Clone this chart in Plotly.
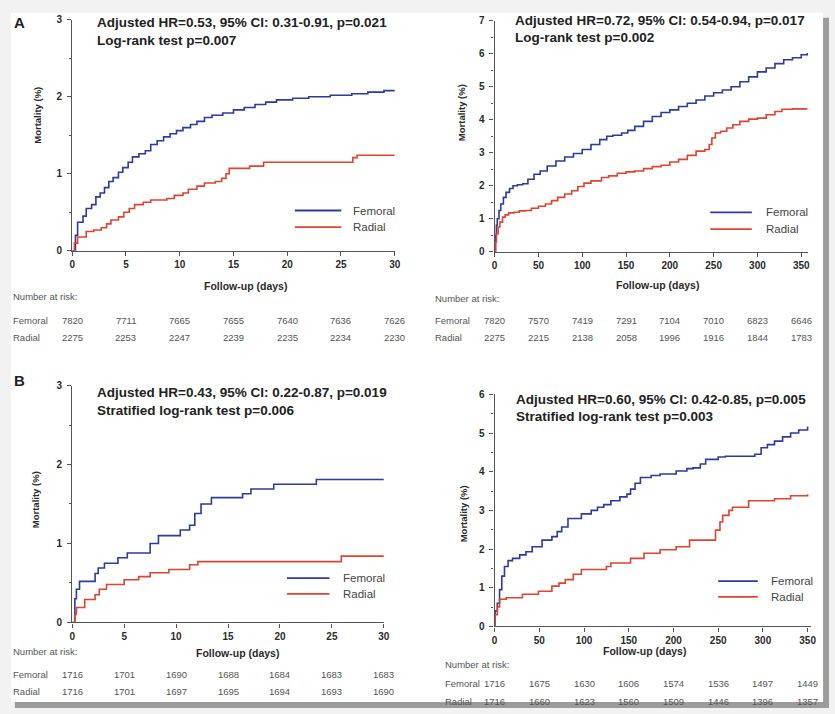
import plotly.graph_objects as go

# ------------------------------------------------------------------ data
# Panel A, 30 days
a30_fem_days = [0, 0.3, 0.5, 1.0, 1.3, 1.8, 2.2, 2.6, 3.0, 3.4, 3.8, 4.3, 4.7, 5.2, 5.6, 6.2, 6.8, 7.3, 7.9,
                8.5, 9.1, 9.7, 10.3, 11.0, 11.6, 12.3, 13.0, 14.0, 15.0, 16.0, 17.0, 18.0, 19.0, 20.5, 22.0,
                24.0, 26.0, 27.5, 29.0, 30.0]
a30_fem_mort = [0, 0.2, 0.37, 0.45, 0.55, 0.6, 0.7, 0.75, 0.82, 0.9, 0.95, 1.02, 1.08, 1.15, 1.22, 1.26, 1.3,
                1.38, 1.43, 1.48, 1.52, 1.56, 1.6, 1.64, 1.68, 1.73, 1.76, 1.79, 1.83, 1.86, 1.9, 1.93, 1.96,
                1.98, 2.0, 2.02, 2.04, 2.06, 2.08, 2.09]
a30_rad_days = [0, 0.2, 0.5, 1.3, 2.0, 2.7, 3.2, 3.6, 4.3, 4.8, 5.3, 5.8, 6.6, 7.3, 8.8, 9.5, 10.3, 10.8, 11.6,
                12.3, 13.3, 13.9, 14.3, 14.6, 16.5, 17.8, 25.7, 26.1, 26.5, 30.0]
a30_rad_mort = [0, 0.1, 0.18, 0.25, 0.27, 0.3, 0.35, 0.4, 0.44, 0.5, 0.55, 0.6, 0.63, 0.66, 0.68, 0.72, 0.75,
                0.8, 0.84, 0.88, 0.9, 0.94, 1.0, 1.07, 1.1, 1.15, 1.15, 1.21, 1.24, 1.24]
a30_ticks = [0, 5, 10, 15, 20, 25, 30]
a30_risk_fem = [7820, 7711, 7665, 7655, 7640, 7636, 7626]
a30_risk_rad = [2275, 2253, 2247, 2239, 2235, 2234, 2230]

# Panel A, 1 year
a1y_fem_days = [0, 1, 2, 3, 5, 7, 10, 13, 17, 21, 26, 32, 38, 45, 52, 60, 70, 80, 90, 100, 110, 120, 128, 135,
                145, 152, 160, 170, 180, 190, 200, 210, 220, 230, 240, 250, 260, 270, 280, 290, 300, 310, 320,
                330, 340, 350, 357]
a1y_fem_mort = [0, 0.5, 0.8, 1.0, 1.25, 1.45, 1.65, 1.8, 1.92, 2.0, 2.03, 2.06, 2.2, 2.35, 2.45, 2.6, 2.75,
                2.87, 2.98, 3.1, 3.25, 3.4, 3.5, 3.53, 3.6, 3.68, 3.8, 3.95, 4.1, 4.22, 4.3, 4.4, 4.5, 4.6,
                4.72, 4.82, 4.9, 5.0, 5.15, 5.3, 5.45, 5.57, 5.7, 5.82, 5.88, 5.97, 6.02]
a1y_rad_days = [0, 1, 2, 4, 6, 9, 12, 16, 22, 28, 35, 42, 50, 58, 65, 72, 80, 88, 95, 102, 110, 118, 122, 130,
                140, 150, 160, 170, 180, 190, 200, 210, 220, 230, 240, 245, 248, 252, 258, 265, 272, 280, 290,
                300, 310, 320, 328, 340, 357]
a1y_rad_mort = [0, 0.3, 0.55, 0.75, 0.9, 1.05, 1.12, 1.18, 1.2, 1.24, 1.25, 1.32, 1.38, 1.45, 1.55, 1.65, 1.75,
                1.85, 1.98, 2.08, 2.15, 2.15, 2.25, 2.3, 2.38, 2.42, 2.45, 2.52, 2.58, 2.62, 2.72, 2.8, 2.92,
                3.05, 3.1, 3.25, 3.45, 3.6, 3.65, 3.75, 3.85, 3.95, 4.02, 4.05, 4.15, 4.25, 4.32, 4.33, 4.33]
a1y_ticks = [0, 50, 100, 150, 200, 250, 300, 350]
a1y_risk_fem = [7820, 7570, 7419, 7291, 7104, 7010, 6823, 6646]
a1y_risk_rad = [2275, 2215, 2138, 2058, 1996, 1916, 1844, 1783]

# Panel B, 30 days (matched)
b30_fem_days = [0, 0.25, 0.4, 0.7, 2.2, 2.5, 3.1, 4.4, 5.3, 7.5, 8.3, 10.4, 11.3, 11.8, 12.4, 13.4, 16.4, 17.2,
                19.4, 23.5, 30.0]
b30_fem_mort = [0, 0.3, 0.42, 0.52, 0.62, 0.69, 0.75, 0.82, 0.88, 1.0, 1.1, 1.17, 1.23, 1.38, 1.5, 1.58, 1.63,
                1.69, 1.75, 1.81, 1.81]
b30_rad_days = [0, 0.25, 0.4, 1.2, 2.2, 2.6, 3.3, 5.0, 6.4, 7.5, 9.3, 11.3, 12.1, 25.9, 30.0]
b30_rad_mort = [0, 0.1, 0.19, 0.29, 0.35, 0.42, 0.48, 0.54, 0.58, 0.63, 0.67, 0.73, 0.77, 0.84, 0.84]
b30_ticks = [0, 5, 10, 15, 20, 25, 30]
b30_risk_fem = [1716, 1701, 1690, 1688, 1684, 1683, 1683]
b30_risk_rad = [1716, 1701, 1697, 1695, 1694, 1693, 1690]

# Panel B, 1 year (matched)
b1y_fem_days = [0, 0.5, 3, 5.5, 8, 11, 15, 20, 28, 35, 42, 53, 64, 70, 75, 82, 97, 108, 115, 122, 130, 140, 148,
                152, 157, 163, 175, 185, 203, 215, 222, 230, 236, 250, 258, 291, 298, 305, 313, 322, 331, 340,
                350]
b1y_fem_mort = [0, 0.4, 0.6, 0.95, 1.3, 1.55, 1.7, 1.76, 1.85, 1.93, 2.06, 2.23, 2.32, 2.45, 2.57, 2.79, 2.91,
                3.0, 3.08, 3.15, 3.25, 3.35, 3.42, 3.55, 3.7, 3.85, 3.9, 3.94, 4.02, 4.08, 4.1, 4.2, 4.32, 4.38,
                4.4, 4.45, 4.62, 4.7, 4.79, 4.9, 5.0, 5.08, 5.17]
b1y_rad_days = [0, 0.5, 3, 5.5, 13, 31, 49, 64, 72, 79, 88, 97, 119, 125, 130, 152, 167, 185, 203, 218, 240,
                247, 252, 255, 262, 266, 284, 313, 331, 350]
b1y_rad_mort = [0, 0.3, 0.5, 0.7, 0.74, 0.83, 0.91, 1.04, 1.12, 1.21, 1.35, 1.47, 1.47, 1.55, 1.64, 1.76, 1.89,
                1.98, 2.06, 2.23, 2.23, 2.49, 2.7, 2.87, 3.0, 3.08, 3.25, 3.3, 3.38, 3.42]
b1y_ticks = [0, 50, 100, 150, 200, 250, 300, 350]
b1y_risk_fem = [1716, 1675, 1630, 1606, 1574, 1536, 1497, 1449]
b1y_risk_rad = [1716, 1660, 1623, 1560, 1509, 1446, 1396, 1357]

stats = [
    ["Adjusted HR=0.53, 95% CI: 0.31-0.91, p=0.021", "Log-rank test p=0.007"],
    ["Adjusted HR=0.72, 95% CI: 0.54-0.94, p=0.017", "Log-rank test p=0.002"],
    ["Adjusted HR=0.43, 95% CI: 0.22-0.87, p=0.019", "Stratified log-rank test p=0.006"],
    ["Adjusted HR=0.60, 95% CI: 0.42-0.85, p=0.005", "Stratified log-rank test p=0.003"],
]

# ------------------------------------------------------------------ layout helpers
W, H = 835, 714
FONT = "Liberation Sans, Arial, sans-serif"
FEM_COLOR = "#2d3a9e"
RAD_COLOR = "#e0432f"
AX_COLOR = "#555555"
TXT = "#2a2a2a"


def px(x):
    return x / W


def py(y):
    return 1 - y / H


panels = [
    dict(fd=a30_fem_days, fm=a30_fem_mort, rd=a30_rad_days, rm=a30_rad_mort, ticks=a30_ticks,
         rf=a30_risk_fem, rr=a30_risk_rad, xr=[0, 30], yr=[0, 3],
         xpix=(70, 396), ypix=(249, 14), stat_xy=(93, 17, 35), leg=(295, 342, 208, 225, 352),
         ytitle=(35, 111), xtitle=(245, 285), nar=(8, 295, 320, 337)),
    dict(fd=a1y_fem_days, fm=a1y_fem_mort, rd=a1y_rad_days, rm=a1y_rad_mort, ticks=a1y_ticks,
         rf=a1y_risk_fem, rr=a1y_risk_rad, xr=[0, 358], yr=[0, 7],
         xpix=(497, 814), ypix=(250, 15), stat_xy=(516, 15, 32), leg=(715, 757, 210, 227, 769),
         ytitle=(463, 109), xtitle=(662, 284), nar=(435, 298, 320, 337)),
    dict(fd=b30_fem_days, fm=b30_fem_mort, rd=b30_rad_days, rm=b30_rad_mort, ticks=b30_ticks,
         rf=b30_risk_fem, rr=b30_risk_rad, xr=[0, 30], yr=[0, 3],
         xpix=(70, 385), ypix=(627, 386), stat_xy=(93, 393, 411), leg=(287, 330, 582, 598, 342),
         ytitle=(33, 502), xtitle=(237, 658), nar=(8, 657, 680, 697)),
    dict(fd=b1y_fem_days, fm=b1y_fem_mort, rd=b1y_rad_days, rm=b1y_rad_mort, ticks=b1y_ticks,
         rf=b1y_risk_fem, rr=b1y_risk_rad, xr=[0, 354], yr=[0, 6],
         xpix=(497, 817), ypix=(631, 395), stat_xy=(517, 400, 418), leg=(723, 763, 585, 601, 774),
         ytitle=(465, 516), xtitle=(648, 656), nar=(445, 670, 689, 707)),
]

fig = go.Figure()
annotations = []
shapes = [
    dict(type="rect", xref="paper", yref="paper", x0=px(12), x1=1, y0=0, y1=py(12),
         fillcolor="#9c9c9c", line=dict(width=0), layer="below"),
    dict(type="rect", xref="paper", yref="paper", x0=px(8), x1=px(829), y0=py(708), y1=py(7),
         fillcolor="#ffffff", line=dict(width=0), layer="below"),
]

axis_font = dict(family=FONT, size=10, color=TXT, weight="bold")

for i, p in enumerate(panels):
    n = "" if i == 0 else str(i + 1)
    xa, ya = "x" + n, "y" + n
    fig.add_trace(go.Scatter(x=p["fd"], y=p["fm"], xaxis=xa, yaxis=ya, mode="lines",
                             line=dict(color=FEM_COLOR, width=1.6, shape="hv"), name="Femoral",
                             showlegend=False, hoverinfo="skip"))
    fig.add_trace(go.Scatter(x=p["rd"], y=p["rm"], xaxis=xa, yaxis=ya, mode="lines",
                             line=dict(color=RAD_COLOR, width=1.6, shape="hv"), name="Radial",
                             showlegend=False, hoverinfo="skip"))
    x0p, x1p = p["xpix"]
    y0p, y1p = p["ypix"]
    fig.layout["xaxis" + n] = dict(
        domain=[px(x0p), px(x1p)], range=p["xr"], anchor=ya, tickvals=p["ticks"],
        showline=True, linecolor=AX_COLOR, linewidth=1.4, ticks="outside", ticklen=4, tickwidth=1.2,
        tickcolor=AX_COLOR, showgrid=False, zeroline=False, tickfont=axis_font, ticklabelstandoff=0)
    fig.layout["yaxis" + n] = dict(
        domain=[py(y0p), py(y1p)], range=p["yr"], anchor=xa, dtick=1,
        showline=True, linecolor=AX_COLOR, linewidth=1.4, ticks="outside", ticklen=4, tickwidth=1.2,
        tickcolor=AX_COLOR, showgrid=False, zeroline=False, tickfont=axis_font, ticklabelstandoff=3,
        minor=dict(dtick=0.5, ticks="outside", ticklen=2.5, tickcolor=AX_COLOR, tickwidth=1))

    # statistics text
    sx, sy1, sy2 = p["stat_xy"]
    for txt, yy in zip(stats[i], (sy1, sy2)):
        annotations.append(dict(text=txt, x=px(sx), y=py(yy), xref="paper", yref="paper",
                                xanchor="left", yanchor="middle", showarrow=False,
                                font=dict(family=FONT, size=13.5, color="#222", weight="bold")))
    # legend
    lx0, lx1, ly1, ly2, ltx = p["leg"]
    for col, yy, lab in ((FEM_COLOR, ly1, "Femoral"), (RAD_COLOR, ly2, "Radial")):
        shapes.append(dict(type="line", xref="paper", yref="paper", x0=px(lx0), x1=px(lx1),
                           y0=py(yy), y1=py(yy), line=dict(color=col, width=1.8)))
        annotations.append(dict(text=lab, x=px(ltx), y=py(yy), xref="paper", yref="paper",
                                xanchor="left", yanchor="middle", showarrow=False,
                                font=dict(family=FONT, size=11.5, color="#444")))
    # axis titles
    tx, ty = p["ytitle"]
    annotations.append(dict(text="Mortality (%)", x=px(tx), y=py(ty), xref="paper", yref="paper",
                            textangle=-90, showarrow=False, xanchor="center", yanchor="middle",
                            font=dict(family=FONT, size=9.5, color=TXT, weight="bold")))
    tx, ty = p["xtitle"]
    annotations.append(dict(text="Follow-up (days)", x=px(tx), y=py(ty), xref="paper", yref="paper",
                            showarrow=False, xanchor="center", yanchor="middle",
                            font=dict(family=FONT, size=10.5, color=TXT, weight="bold")))
    # number at risk
    nx, ny0, ny1, ny2 = p["nar"]
    small = dict(family=FONT, size=9.5, color="#555")
    annotations.append(dict(text="Number at risk:", x=px(nx), y=py(ny0), xref="paper", yref="paper",
                            xanchor="left", yanchor="middle", showarrow=False, font=small))
    for lab, yy, vals in (("Femoral", ny1, p["rf"]), ("Radial", ny2, p["rr"])):
        annotations.append(dict(text=lab, x=px(nx), y=py(yy), xref="paper", yref="paper",
                                xanchor="left", yanchor="middle", showarrow=False, font=small))
        for t, v in zip(p["ticks"], vals):
            annotations.append(dict(text=str(v), x=t, y=py(yy), xref=xa, yref="paper",
                                    xanchor="center", yanchor="middle", showarrow=False, font=small))

# panel letters
for lab, yy in (("A", 17), ("B", 381)):
    annotations.append(dict(text=lab, x=px(17), y=py(yy), xref="paper", yref="paper", showarrow=False,
                            xanchor="center", yanchor="middle",
                            font=dict(family=FONT, size=15, color="#222", weight="bold")))

fig.update_layout(
    width=W, height=H, margin=dict(l=0, r=0, t=0, b=0),
    paper_bgcolor="#f2f2f2", plot_bgcolor="rgba(0,0,0,0)",
    annotations=annotations, shapes=shapes, showlegend=False,
    font=dict(family=FONT),
)

fig.write_html("out.html", config={"displayModeBar": False},
               post_script="document.body.style.margin='0';document.body.style.padding='0';"
                           "document.body.style.overflow='hidden';")
